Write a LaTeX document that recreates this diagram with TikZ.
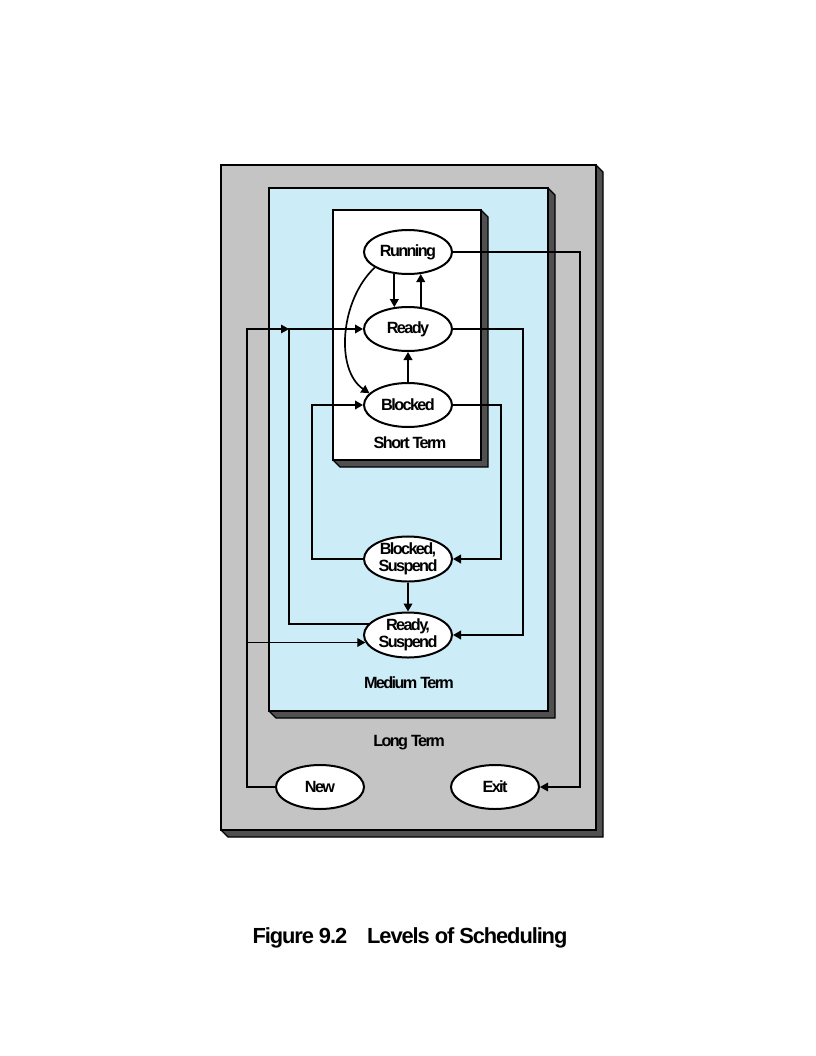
\documentclass[tikz,border=0pt]{standalone}
\usepackage{fontspec}
\setmainfont{Liberation Sans}
\newfontfamily\tightfont[LetterSpace=-10]{Liberation Sans}
\newfontfamily\titlefont[LetterSpace=-5]{Liberation Sans}
\usetikzlibrary{shapes.geometric,arrows.meta}

\definecolor{longgray}{RGB}{196,196,196}
\definecolor{medblue}{RGB}{204,236,248}
\definecolor{shade}{RGB}{80,80,80}

\tikzset{
  state/.style={ellipse, draw, line width=1.5pt, fill=white, minimum width=66pt, minimum height=33pt, inner sep=0pt, align=center, font=\tightfont\fontsize{12.2}{12.5}\selectfont\bfseries},
  link/.style={->, line width=1.25pt},
  feed/.style={->, line width=0.8pt},
  levelname/.style={font=\tightfont\fontsize{12.2}{12.5}\selectfont\bfseries},
}

\begin{document}
\begin{tikzpicture}[x=0.75pt, y=-0.75pt, >={Triangle[length=6pt,width=6.5pt]}]
\useasboundingbox (0,0) rectangle (816,1056);
% levels: long, medium, short
\foreach \xa/\ya/\xb/\yb/\col in {221/165/596/830/longgray, 269/188/548/711/medblue, 333/210/481/460/white}{
  \filldraw[fill=shade, line width=1pt] (\xb,\ya) -- (\xb+7,\ya+7) -- (\xb+7,\yb+7) -- (\xa+7,\yb+7) -- (\xa,\yb) -- cycle;
  \filldraw[fill=\col, line width=1.5pt] (\xa,\ya) rectangle (\xb,\yb);
}
\node[state] (run) at (408,252) {Running};
\node[state] (rdy) at (408,329) {Ready};
\node[state] (blk) at (408,405) {Blocked};
\node[state] (bsus) at (408,559) {Blocked,\\Suspend};
\node[state] (rsus) at (408,635) {Ready,\\Suspend};
\node[state] (new) at (320,787) {New};
\node[state] (exit) at (495,787) {Exit};
\node[levelname] (short) at (410,443) {Short Term};
\node[levelname] (medium) at (409,683) {Medium Term};
\node[levelname] (long) at (409,743) {Long Term};
\node[font=\titlefont\fontsize{16.4}{18}\selectfont\bfseries, anchor=base] (caption) at (410,943) {Figure 9.2\hspace{15pt}Levels of Scheduling};
% corners of the routed lines
\coordinate (rx) at (580,787);
\coordinate (rr) at (523,635);
\coordinate (br) at (501,559);
\coordinate (bl) at (312,559);
\coordinate (rl) at (289,329);
\coordinate (nl) at (247,329);
\draw[link] (run.238) -- (rdy.122);
\draw[link] (rdy.60) -- (run.300);
\draw[link] (run.205) .. controls (340,300) and (335,370) .. (blk.163);
\draw[link] (blk.north) -- (rdy.south);
\draw[link] (rdy.east) -| (rr) -- (rsus.east);
\draw[link] (blk.east) -| (br) -- (bsus.east);
\draw[link] (bsus.west) -- (bl) |- (blk.west);
\draw[link] (bsus.south) -- (rsus.north);
\draw[link] (rsus.164) -| (rl) -- (rdy.west);
\draw[feed] (new.west) -| (nl) -- (rl);
\draw[feed] (nl |- rsus.190) -- (rsus.190);
\draw[feed] (run.east) -| (rx) -- (exit.east);
\end{tikzpicture}
\end{document}
